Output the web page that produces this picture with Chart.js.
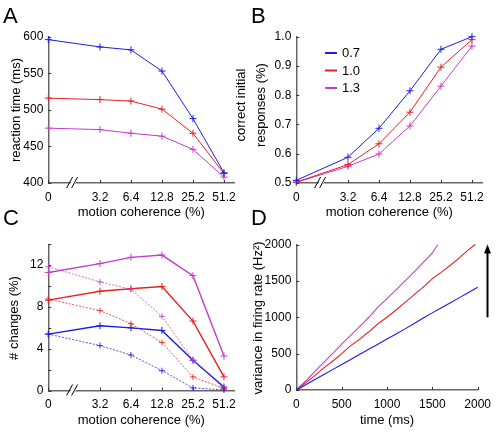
<!DOCTYPE html>
<html><head><meta charset="utf-8">
<script src="https://cdn.jsdelivr.net/npm/chart.js@4/dist/chart.umd.min.js"></script>
<style>
html,body{margin:0;padding:0;background:#fff;width:498px;height:432px;overflow:hidden}
canvas{position:absolute;left:0;top:0}
</style></head>
<body>
<canvas id="cA" width="498" height="432"></canvas>
<canvas id="cB" width="498" height="432"></canvas>
<canvas id="cC" width="498" height="432"></canvas>
<canvas id="cD" width="498" height="432"></canvas>
<script>
// ---------- data ----------
const coherence = ['0','3.2','6.4','12.8','25.2','51.2'];
const gainLabels = ['0.7','1.0','1.3'];

const rtBlue    = [596,586,582,553,488,414];
const rtRed     = [516,514,512,501,468,413];
const rtMagenta = [475,473,468,464,446,408];
const rtTicks   = [400,450,500,550,600];

const corrBlue    = [0.509,0.588,0.687,0.815,0.957,1.0];
const corrRed     = [0.503,0.563,0.634,0.742,0.896,0.990];
const corrMagenta = [0.502,0.557,0.599,0.695,0.831,0.968];
const corrTicks   = [0.5,0.6,0.7,0.8,0.9,1.0];
const corrTickLabels = ['0.5','0.6','0.7','0.8','0.9','1.0'];

const chgBlueSolid    = [5.4,6.2,6.0,5.75,2.9,0.33];
const chgBlueDash     = [5.4,4.3,3.4,1.9,0.25,0.05];
const chgRedSolid     = [8.65,9.5,9.75,9.95,6.65,1.3];
const chgRedDash      = [8.75,7.65,6.4,4.6,1.3,0.2];
const chgMagentaSolid = [11.3,12.15,12.75,12.97,11.0,3.3];
const chgMagentaDash  = [11.85,10.4,9.7,7.1,2.9,0.2];
const chgTicks = [0,2,4,6,8,10,12,14];
const chgTickLabels = ['0','','4','','8','','12',''];

const timeMagenta = [0,100,200,300,400,500,600,700,800,900,1000,1100,1200,1300,1400,1500,1560];
const varMagenta  = [0,120,250,375,500,630,750,875,1000,1140,1255,1375,1500,1625,1755,1880,2000];
const timeRed = [0,100,200,300,400,500,600,700,800,900,1000,1100,1200,1300,1400,1500,1600,1700,1800,1900,1975];
const varRed  = [0,95,195,300,395,500,610,700,800,910,1000,1100,1205,1310,1415,1530,1620,1715,1820,1930,2000];
const timeBlue = [0,100,200,300,400,500,600,700,800,900,1000,1100,1200,1300,1400,1500,1600,1700,1800,1900,2000];
const varBlue  = [0,70,140,210,280,350,420,490,560,630,700,770,840,915,990,1060,1130,1200,1270,1340,1413];
const timeTicks = [0,500,1000,1500,2000];
const varTicks  = [0,500,1000,1500,2000];

// ---------- styling ----------
const BLUE = '#1c1ce6', RED = '#e42222', MAG = '#c23cc9';
const FONT = '"Liberation Sans", Arial, Helvetica, sans-serif';
const W = 498, H = 432, YW = 40, XH = 40;

// broken category axis: gap between 0 and 3.2
const xPos = i => (i === 0 ? 0 : i + 2/3);
const catTicks = coherence.map((c, i) => xPos(i));
const pts = arr => arr.map((v, i) => ({x: xPos(i), y: v}));
const tpts = (ts, vs) => ts.map((t, i) => ({x: t, y: vs[i]}));

function line(ctx, x1, y1, x2, y2) { ctx.beginPath(); ctx.moveTo(x1, y1); ctx.lineTo(x2, y2); ctx.stroke(); }

const decoPlugin = {
  id: 'deco',
  beforeDatasetsDraw(chart, args, o) {
    const ctx = chart.ctx, ca = chart.chartArea, xs = chart.scales.x, ys = chart.scales.y;
    ctx.save();
    ctx.strokeStyle = '#333'; ctx.lineWidth = 1;
    xs.ticks.forEach(t => { const p = Math.round(xs.getPixelForValue(t.value)) + 0.5; line(ctx, p, ca.bottom, p, ca.bottom - 3); });
    ys.ticks.forEach(t => { const p = Math.round(ys.getPixelForValue(t.value)) + 0.5; line(ctx, ca.left, p, ca.left + 3, p); });
    if (o.breakAt != null) {
      const bx = xs.getPixelForValue(o.breakAt), by = ca.bottom;
      ctx.fillStyle = '#fff';
      ctx.beginPath(); ctx.moveTo(bx - 4, by + 3); ctx.lineTo(bx + 1, by + 3); ctx.lineTo(bx + 4, by - 3); ctx.lineTo(bx - 1, by - 3); ctx.closePath(); ctx.fill();
      ctx.strokeStyle = '#000'; ctx.lineWidth = 1;
      line(ctx, bx - 6.5, by + 5, bx - 0.5, by - 6);
      line(ctx, bx - 1.5, by + 5, bx + 4.5, by - 6);
    }
    ctx.restore();
  },
  afterDraw(chart, args, o) {
    const ctx = chart.ctx, ca = chart.chartArea;
    ctx.save();
    ctx.fillStyle = '#000';
    ctx.font = '22px ' + FONT; ctx.textAlign = 'left'; ctx.textBaseline = 'alphabetic';
    ctx.fillText(o.letter, o.letterX, o.letterY);
    ctx.font = '13px ' + FONT; ctx.textAlign = 'center'; ctx.textBaseline = 'middle';
    ctx.fillText(o.xTitle, (ca.left + ca.right) / 2, o.xTitleY);
    o.yTitle.forEach((t, i) => {
      ctx.save(); ctx.translate(o.yTitleX[i], o.yTitleY); ctx.rotate(-Math.PI / 2);
      ctx.fillText(t, 0, 0); ctx.restore();
    });
    if (o.legend) {
      const L = o.legend;
      chart.data.datasets.forEach((ds, i) => {
        const y = L.y + i * L.dy;
        ctx.strokeStyle = ds.borderColor; ctx.lineWidth = 2;
        line(ctx, L.x, y, L.x + 12, y);
        ctx.fillStyle = '#000'; ctx.textAlign = 'left'; ctx.font = '13px ' + FONT;
        ctx.fillText(ds.label, L.x + 17, y + 0.5);
      });
    }
    if (o.arrow) {
      const xs = chart.scales.x, ys = chart.scales.y;
      const ax = Math.round(xs.getPixelForValue(o.arrow.x)) + 0.5;
      const y1 = ys.getPixelForValue(o.arrow.from), y2 = ys.getPixelForValue(o.arrow.to);
      ctx.strokeStyle = '#000'; ctx.fillStyle = '#000'; ctx.lineWidth = 2;
      line(ctx, ax, y1, ax, y2 + 7);
      ctx.beginPath(); ctx.moveTo(ax, y2); ctx.lineTo(ax - 3.5, y2 + 9); ctx.lineTo(ax + 3.5, y2 + 9); ctx.closePath(); ctx.fill();
    }
    ctx.restore();
  }
};

function makeChart(id, area, datasets, xs, ys, deco) {
  return new Chart(document.getElementById(id), {
    type: 'line',
    data: {datasets},
    options: {
      responsive: false, animation: false, devicePixelRatio: 1,
      layout: {padding: {left: area.l - YW, top: area.t, right: W - area.r, bottom: H - area.b - XH}},
      plugins: {legend: {display: false}, tooltip: {enabled: false}, deco},
      elements: {line: {tension: 0, fill: false}},
      scales: {
        x: {
          type: 'linear', min: xs.min, max: xs.max, offset: false,
          afterFit(s) { s.height = XH; },
          afterBuildTicks(s) { s.ticks = xs.ticks.map(v => ({value: v})); },
          ticks: {callback: (v, i) => xs.labels[i], autoSkip: false, maxRotation: 0, padding: 7,
                  color: '#000', font: {family: FONT, size: 12}},
          grid: {display: false, drawTicks: false},
          border: {display: true, color: '#666', width: 1.5}
        },
        y: {
          type: 'linear', min: ys.min, max: ys.max,
          afterFit(s) { s.width = YW; },
          afterBuildTicks(s) { s.ticks = ys.ticks.map(v => ({value: v})); },
          ticks: {callback: (v, i) => ys.labels[i], autoSkip: false, padding: 5,
                  color: '#000', font: {family: FONT, size: 12}},
          grid: {display: false, drawTicks: false},
          border: {display: true, color: '#666', width: 1.5}
        }
      }
    },
    plugins: [decoPlugin]
  });
}

const catX = {min: 0, max: 6, ticks: catTicks, labels: coherence};
const mk = (data, color, label, extra) => Object.assign({
  label, data, borderColor: color, backgroundColor: color, borderWidth: 1,
  pointStyle: 'cross', pointRadius: 3.5, pointBorderWidth: 1, pointBorderColor: color, clip: false
}, extra || {});

// Panel A
makeChart('cA', {l: 48.3, r: 234.3, t: 36.7, b: 183},
  [mk(pts(rtBlue), BLUE, gainLabels[0]), mk(pts(rtRed), RED, gainLabels[1]), mk(pts(rtMagenta), MAG, gainLabels[2])],
  catX, {min: 400, max: 600, ticks: rtTicks, labels: rtTicks.map(String)},
  {letter: 'A', letterX: 3, letterY: 23, xTitle: 'motion coherence (%)', xTitleY: 212,
   yTitle: ['reaction time (ms)'], yTitleX: [16], yTitleY: 110, breakAt: 0.8});

// Panel B
makeChart('cB', {l: 296.3, r: 482.3, t: 36.7, b: 183},
  [mk(pts(corrBlue), BLUE, gainLabels[0]), mk(pts(corrRed), RED, gainLabels[1]), mk(pts(corrMagenta), MAG, gainLabels[2])],
  catX, {min: 0.5, max: 1.0, ticks: corrTicks, labels: corrTickLabels},
  {letter: 'B', letterX: 251, letterY: 23, xTitle: 'motion coherence (%)', xTitleY: 212,
   yTitle: ['correct initial', 'responses (%)'], yTitleX: [241, 261], yTitleY: 105, breakAt: 0.8,
   legend: {x: 325, y: 53, dy: 17.5}});

// Panel C
const dash = {borderWidth: 0.9, borderDash: [2, 1.5], pointRadius: 3};
makeChart('cC', {l: 48.3, r: 234.3, t: 244.3, b: 390.5},
  [mk(pts(chgBlueDash), 'rgba(28,28,230,0.85)', gainLabels[0], dash),
   mk(pts(chgRedDash), 'rgba(228,34,34,0.85)', gainLabels[1], dash),
   mk(pts(chgMagentaDash), 'rgba(194,60,201,0.85)', gainLabels[2], dash),
   mk(pts(chgBlueSolid), BLUE, gainLabels[0], {borderWidth: 1.4}),
   mk(pts(chgRedSolid), RED, gainLabels[1], {borderWidth: 1.4}),
   mk(pts(chgMagentaSolid), MAG, gainLabels[2], {borderWidth: 1.4})],
  catX, {min: 0, max: 14, ticks: chgTicks, labels: chgTickLabels},
  {letter: 'C', letterX: 3, letterY: 225, xTitle: 'motion coherence (%)', xTitleY: 420,
   yTitle: ['# changes (%)'], yTitleX: [14], yTitleY: 318, breakAt: 0.8});

// Panel D
const dl = (ts, vs, color, label) => ({label, data: tpts(ts, vs), borderColor: color, backgroundColor: color,
  borderWidth: 1.1, pointRadius: 0, fill: false, clip: false});
makeChart('cD', {l: 296.3, r: 481.3, t: 244.5, b: 390},
  [dl(timeBlue, varBlue, BLUE, gainLabels[0]), dl(timeRed, varRed, RED, gainLabels[1]), dl(timeMagenta, varMagenta, MAG, gainLabels[2])],
  {min: 0, max: 2000, ticks: timeTicks, labels: timeTicks.map(String)},
  {min: 0, max: 2000, ticks: varTicks, labels: varTicks.map(String)},
  {letter: 'D', letterX: 251, letterY: 225, xTitle: 'time (ms)', xTitleY: 420,
   yTitle: ['variance in firing rate (Hz\u00B2)'], yTitleX: [258.5], yTitleY: 318,
   arrow: {x: 2100, from: 1000, to: 2000}});
</script>
</body></html>
